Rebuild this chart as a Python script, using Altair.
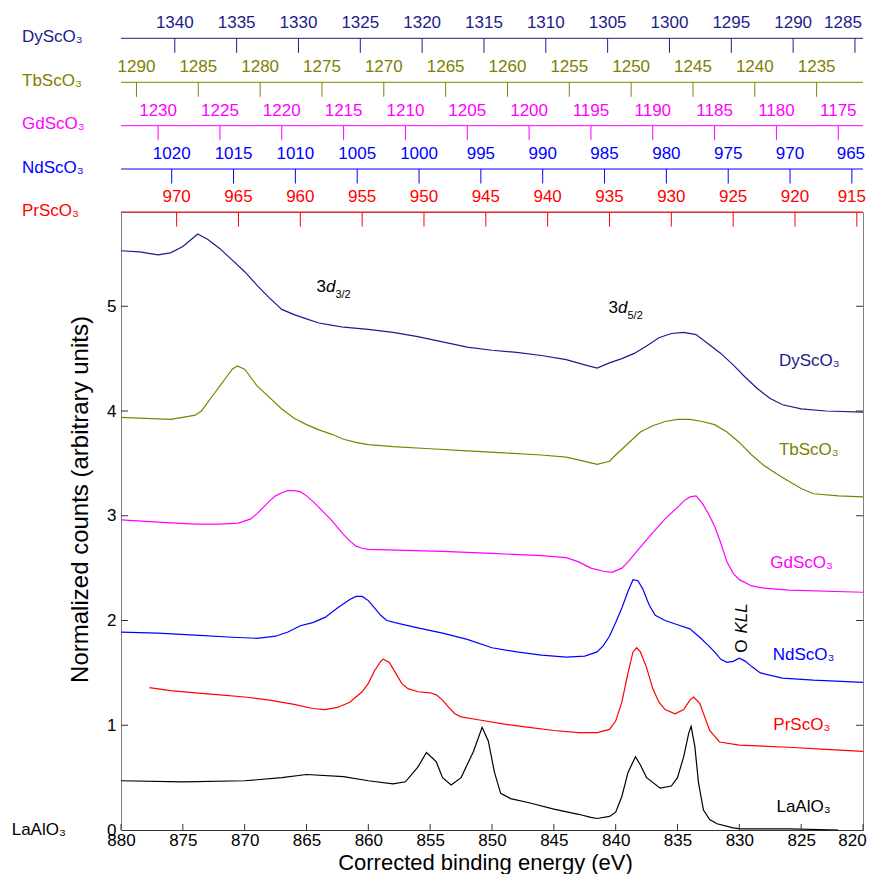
import altair as alt
import pandas as pd

FONT = "Liberation Sans"
W, H = 742, 618

# ---------------- data ----------------
series_names = ["DyScO₃", "TbScO₃", "GdScO₃", "NdScO₃", "PrScO₃", "LaAlO₃"]
series_colors = ["#1c1c8c", "#808000", "#ff00ff", "#0000ff", "#ff0000", "#000000"]

dy_E = [880, 878.5, 877, 876, 875, 874.3, 873.8, 873, 872, 871, 870, 869, 868, 867, 866, 865, 864,
        863, 862, 860, 858, 856, 854, 852, 850, 848, 846, 844, 842.5, 841.5, 840.5, 839.5, 838.5,
        837.5, 836.5, 835.5, 834.5, 833.5, 832.5, 831.5, 830.5, 829.5, 828.5, 827.5, 826.5, 825, 823, 820]
dy_v = [5.53, 5.52, 5.49, 5.51, 5.57, 5.64, 5.69, 5.64, 5.55, 5.44, 5.33, 5.20, 5.08, 4.97, 4.92, 4.88, 4.84,
        4.82, 4.80, 4.78, 4.75, 4.71, 4.66, 4.61, 4.58, 4.56, 4.53, 4.49, 4.44, 4.41, 4.46, 4.50, 4.55,
        4.62, 4.70, 4.74, 4.75, 4.73, 4.64, 4.55, 4.44, 4.32, 4.21, 4.12, 4.06, 4.02, 4.00, 3.99]

tb_E = [880, 878, 876, 875, 874, 873.5, 873, 872.5, 872, 871.5, 871, 870.6, 870, 869.5, 869, 868, 867,
        866, 865, 864, 863, 862, 861, 860, 858, 855, 852, 849, 846, 844, 842.5, 841.5, 840.5, 840,
        839, 838, 837, 836, 835, 834, 833, 832, 831, 830, 829, 828, 827, 826, 825, 824, 822, 820]
tb_v = [3.94, 3.93, 3.92, 3.94, 3.96, 4.00, 4.08, 4.16, 4.24, 4.32, 4.40, 4.43, 4.40, 4.32, 4.24, 4.13, 4.02,
        3.93, 3.87, 3.82, 3.78, 3.73, 3.70, 3.68, 3.66, 3.64, 3.62, 3.60, 3.58, 3.56, 3.52, 3.49, 3.52, 3.58,
        3.69, 3.80, 3.86, 3.90, 3.92, 3.92, 3.90, 3.87, 3.80, 3.70, 3.58, 3.48, 3.40, 3.33, 3.26, 3.21, 3.19, 3.18]

gd_E = [880, 877, 874, 872, 870.5, 869.5, 869, 868.5, 868, 867.5, 867, 866.5, 866, 865.5, 865, 864.5,
        864, 863.5, 863, 862.5, 862, 861.5, 861, 860.5, 860, 857, 854, 850, 846, 844, 843, 842, 841,
        840.3, 839.5, 839, 838, 837, 836, 835, 834.5, 834, 833.5, 833, 832.5, 832, 831.5, 831, 830.5,
        830, 829, 828, 826, 820]
gd_v = [2.96, 2.94, 2.92, 2.92, 2.93, 2.97, 3.02, 3.08, 3.14, 3.19, 3.22, 3.24, 3.24, 3.23, 3.19, 3.14,
        3.08, 3.02, 2.96, 2.89, 2.82, 2.76, 2.71, 2.69, 2.68, 2.67, 2.66, 2.64, 2.62, 2.60, 2.56, 2.50, 2.47,
        2.46, 2.50, 2.56, 2.70, 2.84, 2.97, 3.08, 3.14, 3.18, 3.19, 3.12, 3.02, 2.90, 2.74, 2.56, 2.45,
        2.39, 2.33, 2.31, 2.29, 2.27]

nd_E = [880, 877, 874, 871, 869, 867.5, 866.5, 865.5, 864.5, 863.5, 862.5, 861.5, 861, 860.5, 860,
        859.5, 859, 858.5, 857.5, 856, 854, 852, 850, 848, 846, 844, 842.5, 841.5, 841, 840.5, 840,
        839.5, 839, 838.6, 838.2, 837.8, 837.3, 836.8, 836, 835, 834, 833.2, 832.5, 832, 831.5, 831,
        830.5, 830, 829.5, 829, 828.3, 826.5, 824, 820]
nd_v = [1.89, 1.88, 1.86, 1.84, 1.83, 1.85, 1.89, 1.95, 1.98, 2.03, 2.12, 2.20, 2.23, 2.23, 2.19,
        2.12, 2.05, 2.00, 1.97, 1.93, 1.88, 1.82, 1.74, 1.70, 1.67, 1.65, 1.66, 1.70, 1.76, 1.85, 1.98,
        2.12, 2.28, 2.39, 2.38, 2.30, 2.15, 2.05, 2.00, 1.96, 1.92, 1.84, 1.76, 1.70, 1.63, 1.60,
        1.61, 1.64, 1.61, 1.56, 1.50, 1.45, 1.43, 1.41]

pr_E = [877.7, 876, 874, 872, 870, 868, 866, 864.5, 863.5, 862.5, 861.5, 861, 860.5, 860, 859.5, 859,
        858.8, 858.3, 857.8, 857.3, 856.8, 856, 855, 854.5, 854, 853.5, 853, 852.5, 851, 849, 847, 845,
        843, 841.5, 840.5, 840, 839.5, 839, 838.6, 838.3, 838, 837.5, 837, 836.5, 836, 835.2, 834.5,
        834, 833.7, 833.2, 832.4, 831.6, 830, 826, 823, 820]
pr_v = [1.36, 1.33, 1.31, 1.29, 1.27, 1.24, 1.20, 1.16, 1.15, 1.17, 1.22, 1.27, 1.32, 1.40, 1.52, 1.61,
        1.63, 1.60, 1.50, 1.40, 1.35, 1.32, 1.31, 1.29, 1.24, 1.17, 1.11, 1.08, 1.05, 1.01, 0.98, 0.95,
        0.93, 0.93, 0.96, 1.04, 1.22, 1.50, 1.70, 1.74, 1.70, 1.55, 1.35, 1.22, 1.15, 1.11, 1.15,
        1.24, 1.27, 1.21, 0.95, 0.84, 0.81, 0.79, 0.77, 0.75]

la_E = [880, 875, 870, 867, 865, 862, 860, 858, 857, 856, 855.3, 854.5, 854, 853.3, 852.5, 851.5,
        850.8, 850.3, 849.8, 849.3, 848.5, 847, 845, 843, 842, 841.5, 840.5, 840, 839.5, 839, 838.4,
        838, 837.5, 836.4, 835.5, 835, 834.5, 834.1, 833.9, 833.6, 833.3, 832.9, 832.4, 831.8, 830.5,
        829.9, 826, 822]
la_v = [0.47, 0.46, 0.47, 0.50, 0.53, 0.51, 0.47, 0.44, 0.46, 0.60, 0.74, 0.65, 0.50, 0.43, 0.50, 0.75,
        0.98, 0.85, 0.55, 0.35, 0.30, 0.26, 0.20, 0.15, 0.12, 0.11, 0.13, 0.17, 0.32, 0.55, 0.70,
        0.62, 0.50, 0.40, 0.42, 0.50, 0.70, 0.92, 0.99, 0.80, 0.45, 0.19, 0.10, 0.06, 0.02,
        0.01, 0.01, 0.00]

series_E = [dy_E, tb_E, gd_E, nd_E, pr_E, la_E]
series_v = [dy_v, tb_v, gd_v, nd_v, pr_v, la_v]

# main axis ticks
x_tick_values = [880, 875, 870, 865, 860, 855, 850, 845, 840, 835, 830, 825, 820]
y_tick_values = [0, 1, 2, 3, 4, 5]

# curve labels inside plot
label_E = [826.8, 826.8, 827.5, 827.3, 827.25, 827.0]
label_v = [4.48, 3.63, 2.55, 1.67, 1.00, 0.22]

# 3d annotations
anno_E = [864.2, 840.58]
anno_v = [5.18, 4.985]
anno_sub = ["3/2", "5/2"]

# O KLL annotation
okll_E = [829.8, 829.8]
okll_v = [1.755, 2.02]
okll_txt = ["O", "KLL"]

# element-specific energy axes (values at plot edges, ticks)
top_names = ["DyScO₃", "TbScO₃", "GdScO₃", "NdScO₃", "PrScO₃"]
top_colors = ["#1c1c8c", "#808000", "#ff00ff", "#0000ff", "#ff0000"]
top_domains = [[1284.35, 1344.35], [1231.25, 1291.25], [1173.0, 1233.0], [964.1, 1024.1], [914.5, 974.5]]
top_ticks = [list(range(1340, 1280, -5)), list(range(1290, 1230, -5)), list(range(1230, 1170, -5)),
             list(range(1020, 960, -5)), list(range(970, 910, -5))]

# layout (pixel offsets of the stacked axes above the plot; nudge of last label to stay on page)
top_line_y = [-173.7, -129.7, -86.3, -43.0, 0.0]
top_last_dx = [-12, 0, 0, -1, -5]

# ---------------- chart ----------------
rows = []
for name, Es, vs in zip(series_names, series_E, series_v):
    for e, val in zip(Es, vs):
        rows.append({"series": name, "E": e, "v": val})
df = pd.DataFrame(rows)

xs = alt.Scale(domain=[820, 880], reverse=True, nice=False, zero=False)
ys = alt.Scale(domain=[0, 5.9], nice=False, zero=False)
cs = alt.Scale(domain=series_names, range=series_colors)

x_axis = alt.Axis(
    values=x_tick_values, ticks=False, tickSize=0, labelFontSize=17, labelFont=FONT,
    labelColor="black", labelPadding=2, labelFlush=False, labelOverlap=False,
    labelOffset={"condition": {"test": "datum.value == 820", "value": -11}, "value": 0},
    domainColor="#333333", grid=False,
    title="Corrected binding energy (eV)", titleFontSize=22, titleFont=FONT,
    titleFontWeight="normal", titleColor="black", titleX=364, titleY=32,
    titleBaseline="middle", titleAlign="center")
y_axis = alt.Axis(
    values=y_tick_values, ticks=False, tickSize=0, labelFontSize=17, labelFont=FONT,
    labelColor="black", labelPadding=5, labelFlush=False, labelOverlap=False,
    domainColor="#808080", grid=False,
    title="Normalized counts (arbitrary units)", titleFontSize=24, titleFont=FONT,
    titleFontWeight="normal", titleColor="black", titleX=-41, titleY=287,
    titleAngle=270, titleBaseline="middle", titleAlign="center")

def X(field):
    return alt.X(field, scale=xs, axis=x_axis)

def Y(field):
    return alt.Y(field, scale=ys, axis=y_axis)

lines = alt.Chart(df).mark_line(strokeWidth=1.2).encode(
    x=X("E:Q"), y=Y("v:Q"),
    color=alt.Color("series:N", scale=cs, legend=None),
    order=alt.Order("E:Q", sort="descending"),
)

xt_df = pd.DataFrame({"t": x_tick_values})
yt_df = pd.DataFrame({"t": y_tick_values[1:]})
bottom_ticks = alt.Chart(xt_df).mark_rule(color="#333333").encode(
    x=X("t:Q"), y=alt.value(H), y2=alt.value(H - 6))
left_ticks = alt.Chart(yt_df).mark_rule(color="#333333").encode(
    y=Y("t:Q"), x=alt.value(0), x2=alt.value(7))
right_ticks = alt.Chart(yt_df).mark_rule(color="#333333").encode(
    y=Y("t:Q"), x=alt.value(W), x2=alt.value(W - 7))

lab_df = pd.DataFrame({"series": series_names, "E": label_E, "v": label_v})
curve_labels = alt.Chart(lab_df).mark_text(align="left", baseline="middle", fontSize=17, font=FONT).encode(
    x=X("E:Q"), y=Y("v:Q"), text="series:N",
    color=alt.Color("series:N", scale=cs, legend=None))

anno_df = pd.DataFrame({"E": anno_E, "v": anno_v, "sub": anno_sub})
a3 = alt.Chart(anno_df).mark_text(align="left", baseline="middle", fontSize=17, font=FONT, color="black").encode(
    x=X("E:Q"), y=Y("v:Q"), text=alt.value("3"))
ad = alt.Chart(anno_df).mark_text(align="left", baseline="middle", fontSize=17, font=FONT, color="black",
                                  fontStyle="italic", dx=9.5).encode(
    x=X("E:Q"), y=Y("v:Q"), text=alt.value("d"))
asub = alt.Chart(anno_df).mark_text(align="left", baseline="middle", fontSize=11, font=FONT, color="black",
                                    dx=19, dy=8).encode(
    x=X("E:Q"), y=Y("v:Q"), text="sub:N")

okll_df = pd.DataFrame({"E": okll_E, "v": okll_v, "txt": okll_txt})
okll_o = alt.Chart(okll_df.iloc[:1]).mark_text(angle=270, align="center", baseline="middle", fontSize=17,
                                               font=FONT, color="black").encode(
    x=X("E:Q"), y=Y("v:Q"), text="txt:N")
okll_k = alt.Chart(okll_df.iloc[1:]).mark_text(angle=270, align="center", baseline="middle", fontSize=17,
                                               font=FONT, color="black", fontStyle="italic").encode(
    x=X("E:Q"), y=Y("v:Q"), text="txt:N")

one = pd.DataFrame({"k": [0]})
la_axis_name = alt.Chart(one).mark_text(align="left", baseline="middle", fontSize=17, font=FONT,
                                        color="black").encode(
    x=alt.value(-109.3), y=alt.value(H), text=alt.value("LaAlO₃"))

main = alt.layer(lines, bottom_ticks, left_ticks, right_ticks, curve_labels, a3, ad, asub,
                 okll_o, okll_k, la_axis_name)

groups = [main]
for name, col, dom, ticks, ly, ldx in zip(top_names, top_colors, top_domains, top_ticks,
                                          top_line_y, top_last_dx):
    tdf = pd.DataFrame({"t": ticks})
    sc = alt.Scale(domain=dom, reverse=True, nice=False, zero=False)
    axis_line = alt.Chart(one).mark_rule(color=col, strokeWidth=1).encode(
        x=alt.value(0), x2=alt.value(W), y=alt.value(ly))
    tk = alt.Chart(tdf).mark_rule(color=col, strokeWidth=1).encode(
        x=alt.X("t:Q", scale=sc, axis=None), y=alt.value(ly), y2=alt.value(ly + 14.5))
    tl = alt.Chart(tdf.iloc[:-1]).mark_text(color=col, fontSize=17, font=FONT, baseline="middle",
                                            align="center").encode(
        x=alt.X("t:Q", scale=sc, axis=None), y=alt.value(ly - 15), text=alt.Text("t:Q", format="d"))
    tl_last = alt.Chart(tdf.iloc[-1:]).mark_text(color=col, fontSize=17, font=FONT, baseline="middle",
                                                 align="center", dx=ldx).encode(
        x=alt.X("t:Q", scale=sc, axis=None), y=alt.value(ly - 15), text=alt.Text("t:Q", format="d"))
    nm = alt.Chart(one).mark_text(color=col, fontSize=17, font=FONT, baseline="middle", align="left").encode(
        x=alt.value(-99), y=alt.value(ly - 1.5), text=alt.value(name))
    groups.append(alt.layer(axis_line, tk, tl, tl_last, nm))

chart = alt.layer(*groups).resolve_scale(x="independent").properties(
    width=W, height=H,
    autosize=alt.AutoSizeParams(type="none"),
    padding={"left": 113, "top": 204, "right": 4, "bottom": 44},
).configure_view(stroke="#808080", strokeWidth=1)

chart.save("out.html", embed_options={"renderer": "svg", "actions": False})
